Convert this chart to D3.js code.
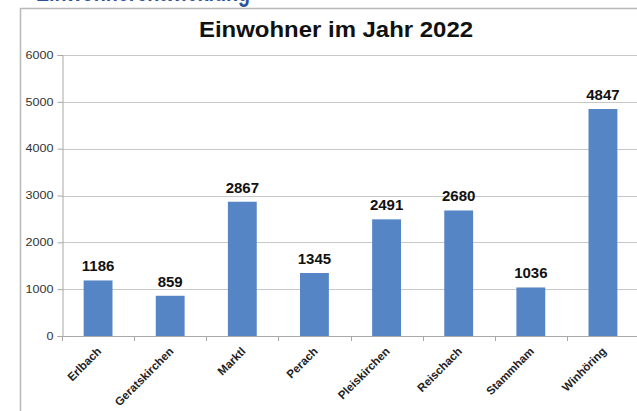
<!DOCTYPE html>
<html>
<head>
<meta charset="utf-8">
<script src="https://cdn.jsdelivr.net/npm/d3@7"></script>
<style>
  html, body { margin: 0; padding: 0; background: #fff; }
  svg { display: block; font-family: "Liberation Sans", Arial, sans-serif; }
</style>
</head>
<body>
<svg id="chart" width="637" height="411"></svg>
<script>
// Einwohner je Gemeinde, Stand 2022
const orte = ["Erlbach", "Geratskirchen", "Marktl", "Perach", "Pleiskirchen", "Reischach", "Stammham", "Winhöring"];
const einwohner = [1186, 859, 2867, 1345, 2491, 2680, 1036, 4847];
const yTicks = [0, 1000, 2000, 3000, 4000, 5000, 6000];
const titel = "Einwohner im Jahr 2022";
const ueberschrift = "Einwohnerentwicklung";

const svg = d3.select("#chart");
const W = 637, H = 411;
const plot = { left: 62, right: 639, top: 55, bottom: 336 };

// Heading above the frame, mostly cut off at the top edge
svg.append("text")
  .attr("x", 36).attr("y", 1)
  .attr("textLength", 214).attr("lengthAdjust", "spacingAndGlyphs")
  .attr("font-size", 28).attr("font-weight", "bold")
  .attr("fill", "#2d5296")
  .text(ueberschrift);

// Chart frame
svg.append("path")
  .attr("d", `M20.5,${H + 2} V8.5 H${W + 2}`)
  .attr("fill", "none").attr("stroke", "#b8b8b8").attr("stroke-width", 1.5);

const x = d3.scaleBand().domain(orte).range([plot.left, plot.right]).paddingInner(0.6).paddingOuter(0.3);
const y = d3.scaleLinear().domain([0, 6000]).range([plot.bottom, plot.top]);

// Title
svg.append("text")
  .attr("x", 336).attr("y", 37)
  .attr("text-anchor", "middle")
  .attr("textLength", 274).attr("lengthAdjust", "spacingAndGlyphs")
  .attr("font-size", 22).attr("font-weight", "bold").attr("fill", "#111")
  .text(titel);

// Gridlines
svg.append("g").selectAll("line").data(yTicks.filter(d => d > 0)).join("line")
  .attr("x1", plot.left).attr("x2", W)
  .attr("y1", d => Math.round(y(d)) + 0.5).attr("y2", d => Math.round(y(d)) + 0.5)
  .attr("stroke", "#c8c8c8").attr("stroke-width", 1);

// Y axis
const yAxis = svg.append("g")
  .attr("transform", `translate(${plot.left + 0.5},0)`)
  .call(d3.axisLeft(y).tickValues(yTicks).tickSize(5).tickPadding(4).tickFormat(d3.format("d")));
yAxis.selectAll("path, line").attr("stroke", "#a8a8a8");
yAxis.selectAll("text")
  .attr("font-size", 10).attr("fill", "#333").attr("font-family", "Liberation Sans, Arial, sans-serif")
  .attr("textLength", d => String(d).length * 7).attr("lengthAdjust", "spacingAndGlyphs");

// X axis baseline and category ticks at band boundaries
const step = x.step();
const bounds = d3.range(orte.length + 1).map(i => plot.left + i * step);
svg.append("line")
  .attr("x1", plot.left).attr("x2", W)
  .attr("y1", Math.round(y(0)) + 0.5).attr("y2", Math.round(y(0)) + 0.5)
  .attr("stroke", "#a8a8a8");
svg.append("g").selectAll("line").data(bounds).join("line")
  .attr("x1", d => Math.round(d) + 0.5).attr("x2", d => Math.round(d) + 0.5)
  .attr("y1", Math.round(y(0))).attr("y2", Math.round(y(0)) + 5)
  .attr("stroke", "#a8a8a8");

// Bars
const data = orte.map((o, i) => ({ ort: o, wert: einwohner[i] }));
svg.append("g").selectAll("rect").data(data).join("rect")
  .attr("x", d => x(d.ort))
  .attr("width", x.bandwidth())
  .attr("y", d => y(d.wert))
  .attr("height", d => y(0) - y(d.wert))
  .attr("fill", "#5585c5");

// Value labels
svg.append("g").selectAll("text").data(data).join("text")
  .attr("x", d => x(d.ort) + x.bandwidth() / 2)
  .attr("y", d => y(d.wert) - 9)
  .attr("text-anchor", "middle")
  .attr("font-size", 15).attr("font-weight", "bold").attr("fill", "#111")
  .text(d => d.wert);

// Rotated category labels
svg.append("g").selectAll("text").data(orte).join("text")
  .attr("transform", d => `translate(${x(d) + x.bandwidth() / 2 + 4},${plot.bottom + 16}) rotate(-45)`)
  .attr("text-anchor", "end")
  .attr("font-size", 11.5).attr("font-weight", "bold").attr("fill", "#222")
  .text(d => d);
</script>
</body>
</html>
